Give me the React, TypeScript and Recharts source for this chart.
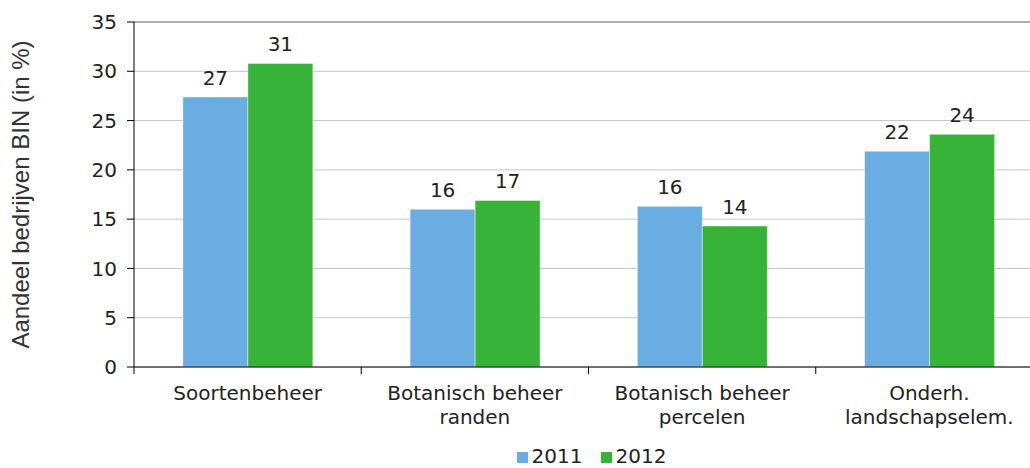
import React from 'react';
import { ComposedChart, Bar, XAxis, YAxis, CartesianGrid, Legend, LabelList, ReferenceLine } from 'recharts';

// Aandeel bedrijven met agrarisch natuurbeheer, per type beheer
const categories = ['Soortenbeheer', 'Botanisch beheer\nranden', 'Botanisch beheer\npercelen', 'Onderh.\nlandschapselem.'];
const values2011 = [27.4, 16.0, 16.3, 21.9];
const values2012 = [30.8, 16.9, 14.3, 23.6];
const yTicks = [0, 5, 10, 15, 20, 25, 30, 35];

const data = categories.map((name, i) => ({ name, y2011: values2011[i], y2012: values2012[i] }));

const FONT = '"DejaVu Sans", Verdana, sans-serif';

// Multi-line category labels, tick marks sit on the category boundaries
const CategoryTick = (props: any) => {
    const { x, y, payload, index, visibleTicksCount } = props;
    const half = payload.offset || 909 / 8;
    const lines = String(payload.value).split('\n');
    return (
        <g>
            <line x1={x - half} x2={x - half} y1={y} y2={y + 7} stroke="#000" />
            {index === visibleTicksCount - 1 && <line x1={x + half} x2={x + half} y1={y} y2={y + 7} stroke="#000" />}
            <text x={x} y={y + 33} textAnchor="middle" fill="#222" fontSize={20} fontFamily={FONT}>
                {lines.map((l, i) => (
                    <tspan key={i} x={x} dy={i === 0 ? 0 : 24}>{l}</tspan>
                ))}
            </text>
        </g>
    );
};

const App: React.FC = () => {
    return (
        <div style={{ position: 'absolute', left: 0, top: 0, width: 1030, height: 468, overflow: 'hidden', background: '#fff' }}>
            <ComposedChart
                width={1043}
                height={468}
                data={data}
                margin={{ top: 22, right: 0, bottom: 0, left: 0 }}
                barCategoryGap="21.5%"
                barGap={0}
            >
                <CartesianGrid vertical={false} stroke="#c4c4c4" />
                <XAxis
                    dataKey="name"
                    height={77}
                    axisLine={{ stroke: '#000' }}
                    tickLine={false}
                    tickSize={0}
                    tickMargin={0}
                    interval={0}
                    tick={<CategoryTick />}
                />
                <YAxis
                    width={134}
                    domain={[0, 35]}
                    ticks={yTicks}
                    interval={0}
                    axisLine={{ stroke: '#000' }}
                    tickLine={{ stroke: '#000' }}
                    tickSize={7}
                    tickMargin={10}
                    tick={{ fill: '#222', fontSize: 20, fontFamily: FONT }}
                    label={{
                        value: 'Aandeel bedrijven BIN (in %)',
                        angle: -90,
                        position: 'insideLeft',
                        offset: 20,
                        style: { textAnchor: 'middle', fill: '#333', fontSize: 24, fontFamily: '"Liberation Sans", Arial, sans-serif' },
                    }}
                />
                <ReferenceLine y={35} stroke="#7a7a7a" />
                <Legend
                    verticalAlign="bottom"
                    iconType="square"
                    iconSize={11}
                    wrapperStyle={{ fontFamily: FONT, fontSize: 20, left: 158, width: 885 }}
                    formatter={(value) => <span style={{ color: '#222', marginRight: 8 }}>{value}</span>}
                />
                <Bar dataKey="y2011" name="2011" fill="#6aade3" stroke="rgba(255,255,255,0.45)" isAnimationActive={false}>
                    <LabelList dataKey="y2011" position="top" offset={12} fill="#222" fontSize={20} fontFamily={FONT} formatter={(v: any) => Math.round(v)} />
                </Bar>
                <Bar dataKey="y2012" name="2012" fill="#37b337" stroke="rgba(255,255,255,0.45)" isAnimationActive={false}>
                    <LabelList dataKey="y2012" position="top" offset={12} fill="#222" fontSize={20} fontFamily={FONT} formatter={(v: any) => Math.round(v)} />
                </Bar>
            </ComposedChart>
        </div>
    );
};

export default App;
